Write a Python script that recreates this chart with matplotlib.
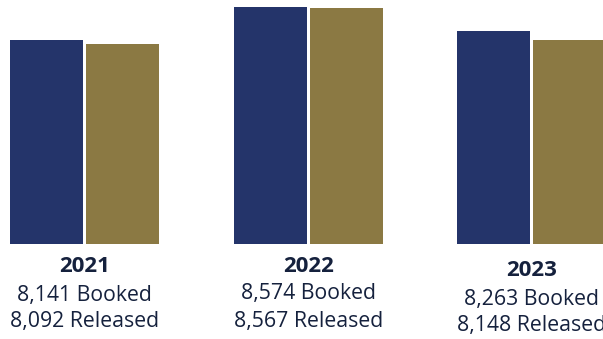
import matplotlib
matplotlib.use("Agg")
import matplotlib.pyplot as plt
from matplotlib.transforms import blended_transform_factory

years = ["2021", "2022", "2023"]
booked = [8141, 8574, 8263]
released = [8092, 8567, 8148]

NAVY = "#24346a"
GOLD = "#8b7943"
TEXT = "#15213d"

plt.rcParams['font.family'] = ['Open Sans', 'DejaVu Sans']

W, H = 603, 339
fig = plt.figure(figsize=(W / 100, H / 100), dpi=100)
ax = fig.add_axes([0, (H - 244) / H, 1, 244 / H])
ax.set_xlim(-0.38, 2.32)
ax.set_ylim(5460, 8670)
ax.axis('off')

x = list(range(len(years)))
bw = 0.327
off = 0.170
ax.bar([i - off for i in x], booked, width=bw, color=NAVY, bottom=0)
ax.bar([i + off for i in x], released, width=bw, color=GOLD, bottom=0)

tr = blended_transform_factory(ax.transData, fig.transFigure)
extra = [0, -1, 4]
for i, (yr, b, r) in enumerate(zip(years, booked, released)):
    d = extra[i]
    ax.text(i, 1 - (267 + d) / H, yr, transform=tr, ha='center', va='center',
            fontsize=16, fontweight='bold', color=TEXT)
    ax.text(i, 1 - (295 + d) / H, f"{b:,} Booked", transform=tr, ha='center', va='center',
            fontsize=15.3, color=TEXT)
    ax.text(i, 1 - (322 + d) / H, f"{r:,} Released", transform=tr, ha='center', va='center',
            fontsize=15.3, color=TEXT)

fig.savefig("out.png", dpi=100)
